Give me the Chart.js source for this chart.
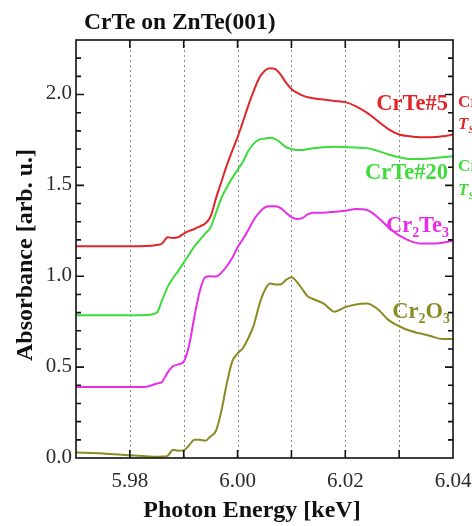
<!DOCTYPE html>
<html><head><meta charset="utf-8">
<script src="https://cdn.jsdelivr.net/npm/chart.js@4/dist/chart.umd.min.js"></script>
<style>html,body{margin:0;padding:0;background:#fff}#wrap{width:472px;height:526px}</style>
</head><body><div id="wrap"><canvas id="c" width="472" height="526"></canvas></div>
<script>
// ---- data ----
const energy = [5.970,5.975,5.980,5.983,
  5.985,5.986,5.987,5.988,5.989,5.990,5.991,5.992,5.993,5.994,
  5.995,5.996,5.997,5.998,5.999,6.000,6.001,6.002,6.003,6.004,
  6.005,6.006,6.007,6.008,6.009,6.010,6.011,6.012,6.013,6.014,
  6.016,6.018,6.020,6.022,6.024,6.026,6.028,6.030,6.032,6.034,6.036,6.038,6.040];
const crte5 = [1.165,1.165,1.165,1.166,
  1.172,1.18,1.215,1.21,1.215,1.235,1.25,1.26,1.275,1.29,
  1.33,1.43,1.52,1.61,1.69,1.765,1.85,1.94,2.02,2.09,
  2.13,2.145,2.14,2.11,2.065,2.03,2.01,1.995,1.985,1.98,
  1.972,1.965,1.958,1.935,1.90,1.855,1.81,1.78,1.77,1.765,1.765,1.77,1.78];
const crte20 = [0.785,0.785,0.785,0.787,
  0.80,0.87,0.94,0.99,1.03,1.075,1.12,1.165,1.20,1.235,
  1.27,1.35,1.43,1.49,1.54,1.585,1.63,1.69,1.73,1.752,
  1.757,1.762,1.755,1.735,1.71,1.70,1.695,1.695,1.70,1.705,
  1.71,1.712,1.71,1.708,1.705,1.69,1.67,1.655,1.645,1.645,1.65,1.655,1.66];
const cr2te3 = [0.39,0.39,0.39,0.392,
  0.41,0.42,0.47,0.505,0.515,0.53,0.62,0.78,0.92,0.995,
  1.0,0.998,1.02,1.055,1.10,1.16,1.205,1.255,1.31,1.35,
  1.378,1.385,1.385,1.375,1.35,1.325,1.315,1.32,1.34,1.35,
  1.35,1.355,1.36,1.37,1.365,1.325,1.27,1.225,1.195,1.18,1.18,1.185,1.195];
const cr2o3 = [0.03,0.025,0.015,0.01,
  0.007,0.008,0.012,0.045,0.04,0.042,0.07,0.10,0.10,0.095,
  0.12,0.15,0.26,0.41,0.53,0.575,0.605,0.66,0.73,0.84,
  0.92,0.96,0.955,0.955,0.98,0.995,0.97,0.93,0.89,0.875,
  0.85,0.805,0.83,0.845,0.85,0.82,0.76,0.725,0.70,0.685,0.67,0.655,0.655];

const xTickValues = [5.97,5.98,5.99,6.00,6.01,6.02,6.03,6.04];
const xTickLabels = ["","5.98","","6.00","","6.02","","6.04"];
const xGridValues = [5.98,5.99,6.00,6.01,6.02,6.03];
const yMajorTicks = [0.0,0.5,1.0,1.5,2.0];
const yTickLabels = ["0.0","0.5","1.0","1.5","2.0"];
const yMinorTicks = [0.1,0.2,0.3,0.4,0.6,0.7,0.8,0.9,1.1,1.2,1.3,1.4,1.6,1.7,1.8,1.9,2.1,2.2];

const titleText = "CrTe on ZnTe(001)";
const xTitle = "Photon Energy [keV]";
const yTitle = "Absorbance [arb. u.]";
const seriesColors = ["#e0262a","#3ddc3a","#e62ee6","#8c8a22"];
const seriesLabels = [
  [{t:"CrTe#5"}],
  [{t:"CrTe#20"}],
  [{t:"Cr"},{t:"2",sub:true},{t:"Te"},{t:"3",sub:true}],
  [{t:"Cr"},{t:"2",sub:true},{t:"O"},{t:"3",sub:true}]
];
const sideNotes = [ // partially visible notes beyond the right edge
  {parts:[{t:"CrTe/ZnTe"}], color:0},
  {parts:[{t:"T",it:true},{t:"S",sub:true,it:true}], color:0},
  {parts:[{t:"CrTe/ZnTe"}], color:1},
  {parts:[{t:"T",it:true},{t:"S",sub:true,it:true}], color:1}
];

const F = '"Liberation Serif","Times New Roman",serif';
const seriesData = [crte5, crte20, cr2te3, cr2o3];

function richText(ctx, parts, x, y, color, size, align) {
  let w = 0;
  const items = parts.map(p => {
    const s = p.sub ? size * 0.62 : size;
    const f = `${p.it ? 'italic ' : ''}bold ${s}px ${F}`;
    ctx.font = f;
    const m = ctx.measureText(p.t).width;
    w += m;
    return {t: p.t, f, m, sub: p.sub};
  });
  let cx = align === 'right' ? x - w : x;
  ctx.fillStyle = color;
  ctx.textAlign = 'left';
  ctx.textBaseline = 'alphabetic';
  items.forEach(it => {
    ctx.font = it.f;
    ctx.fillText(it.t, cx, y + (it.sub ? size * 0.24 : 0));
    cx += it.m;
  });
}

const decor = {
  id: 'decor',
  beforeDatasetsDraw(chart) {
    const {ctx, chartArea: a, scales: {x}} = chart;
    ctx.save();
    ctx.strokeStyle = '#8a8a8a';
    ctx.lineWidth = 1;
    ctx.setLineDash([2, 3]);
    xGridValues.forEach(v => {
      const px = Math.round(x.getPixelForValue(v)) + 0.5;
      ctx.beginPath(); ctx.moveTo(px, a.top); ctx.lineTo(px, a.bottom); ctx.stroke();
    });
    ctx.restore();
  },
  afterDatasetsDraw(chart) {
    const {ctx, chartArea: a, scales: {x, y}} = chart;
    ctx.save();
    ctx.setLineDash([]);
    ctx.strokeStyle = '#111';
    ctx.lineWidth = 1.6;
    ctx.strokeRect(a.left, a.top, a.right - a.left, a.bottom - a.top);
    // x ticks (bottom and top, inward)
    xTickValues.forEach(v => {
      const px = x.getPixelForValue(v);
      if (px <= a.left + 1 || px >= a.right - 1) return;
      ctx.beginPath();
      ctx.moveTo(px, a.bottom); ctx.lineTo(px, a.bottom - 8);
      ctx.moveTo(px, a.top); ctx.lineTo(px, a.top + 8);
      ctx.stroke();
    });
    // y ticks (left and right, inward)
    const yt = (v, len) => {
      const py = y.getPixelForValue(v);
      if (py >= a.bottom - 1 || py <= a.top + 1) return;
      ctx.beginPath();
      ctx.moveTo(a.left, py); ctx.lineTo(a.left + len, py);
      ctx.moveTo(a.right, py); ctx.lineTo(a.right - len, py);
      ctx.stroke();
    };
    yMajorTicks.forEach(v => yt(v, 8));
    yMinorTicks.forEach(v => yt(v, 5));
    // tick labels
    ctx.fillStyle = '#2a2a2a';
    ctx.font = `21px ${F}`;
    ctx.textAlign = 'center';
    ctx.textBaseline = 'middle';
    xTickValues.forEach((v, i) => {
      if (xTickLabels[i]) ctx.fillText(xTickLabels[i], x.getPixelForValue(v), 481);
    });
    ctx.textAlign = 'right';
    yMajorTicks.forEach((v, i) => ctx.fillText(yTickLabels[i], 72, y.getPixelForValue(v) - 1));
    // titles
    ctx.fillStyle = '#111';
    ctx.textAlign = 'left';
    ctx.textBaseline = 'alphabetic';
    ctx.font = `bold 23.5px ${F}`;
    ctx.fillText(titleText, 84, 29);
    ctx.textAlign = 'center';
    ctx.font = `bold 24px ${F}`;
    ctx.fillText(xTitle, 252, 517);
    ctx.save();
    ctx.translate(32, 255);
    ctx.rotate(-Math.PI / 2);
    ctx.fillText(yTitle, 0, 0);
    ctx.restore();
    // series labels
    richText(ctx, seriesLabels[0], 448, 110, seriesColors[0], 22.5, 'right');
    richText(ctx, seriesLabels[1], 448, 179, seriesColors[1], 22.5, 'right');
    richText(ctx, seriesLabels[2], 449, 232, seriesColors[2], 22.5, 'right');
    richText(ctx, seriesLabels[3], 450, 318, seriesColors[3], 22.5, 'right');
    // notes cut by the right edge
    const noteY = [107, 129, 171, 195];
    sideNotes.forEach((n, i) => richText(ctx, n.parts, 458, noteY[i], seriesColors[n.color], 17, 'left'));
    ctx.restore();
  }
};

new Chart(document.getElementById('c'), {
  type: 'line',
  data: {
    datasets: seriesData.map((s, k) => ({
      data: energy.map((e, i) => ({x: e, y: s[i]})),
      borderColor: seriesColors[k],
      borderWidth: 2,
      pointRadius: 0,
      cubicInterpolationMode: 'monotone',
      fill: false
    }))
  },
  options: {
    responsive: false,
    animation: false,
    events: [],
    layout: {padding: {left: 76, right: 19, top: 40, bottom: 68}},
    scales: {
      x: {type: 'linear', min: 5.97, max: 6.04, display: false},
      y: {type: 'linear', min: 0, max: 2.3, display: false}
    },
    plugins: {legend: {display: false}, tooltip: {enabled: false}, title: {display: false}}
  },
  plugins: [decor]
});
</script></body></html>
